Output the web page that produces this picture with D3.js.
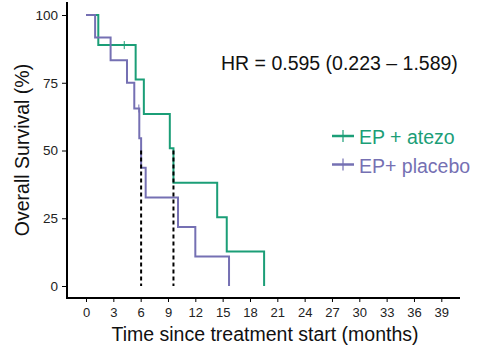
<!DOCTYPE html>
<html><head><meta charset="utf-8">
<script src="https://cdn.jsdelivr.net/npm/d3@7"></script>
<style>body{margin:0;background:#fff}svg{display:block}text{font-family:"Liberation Sans",Arial,sans-serif}</style>
</head><body><svg id="c" width="477" height="352"></svg>
<script>
const xTicks = [0,3,6,9,12,15,18,21,24,27,30,33,36,39];
const yTicks = [0,25,50,75,100];
const atezoTimes = [0,1.35,5.45,6.35,9.2,9.6,14.4,15.45,19.55];
const atezoSurv  = [100,88.9,76.2,63.5,50.8,38.1,25.4,12.7,0];
const atezoCensorTimes = [4.2];
const atezoCensorSurv = [88.9];
const placeboTimes = [0,1.0,2.7,4.5,5.3,5.85,6.05,6.55,10.1,12.0,15.7];
const placeboSurv  = [100,91.7,83.3,75,65.5,54.5,43.6,32.7,21.8,10.9,0];
const placeboCensorTimes = [5.8];
const placeboCensorSurv = [65.5];
const medianTimes = [6.05,9.6];
const seriesNames = ["EP + atezo","EP+ placebo"];
const colors = ["#1B9E77","#7570B3"];
const hrText = "HR = 0.595 (0.223 \u2013 1.589)";

const svg = d3.select("#c");
const x = d3.scaleLinear().domain([0,39]).range([86,441.3]);
const y = d3.scaleLinear().domain([0,100]).range([286,15]);

// axes lines
svg.append("line").attr("x1",67).attr("x2",67).attr("y1",2).attr("y2",299).attr("stroke","#000").attr("stroke-width",2);
svg.append("line").attr("x1",66).attr("x2",460).attr("y1",298).attr("y2",298).attr("stroke","#000").attr("stroke-width",2);

const yAxis = d3.axisLeft(y).tickValues(yTicks).tickSize(4).tickPadding(4);
const gy = svg.append("g").attr("transform","translate(66,0)").call(yAxis);
gy.select(".domain").remove();
gy.selectAll("text").attr("font-size",13.5).attr("fill","#222").style("font-family","Liberation Sans, Arial, sans-serif");
gy.selectAll("line").attr("stroke","#000");

const xAxis = d3.axisBottom(x).tickValues(xTicks).tickSize(4).tickPadding(6);
const gx = svg.append("g").attr("transform","translate(0,298)").call(xAxis);
gx.select(".domain").remove();
gx.selectAll("text").attr("font-size",13).attr("fill","#222").style("font-family","Liberation Sans, Arial, sans-serif");
gx.selectAll("line").attr("stroke","#000");

const line = d3.line().x(d=>x(d[0])).y(d=>y(d[1])).curve(d3.curveStepAfter);
const series = [
  {t:atezoTimes,s:atezoSurv,ct:atezoCensorTimes,cs:atezoCensorSurv},
  {t:placeboTimes,s:placeboSurv,ct:placeboCensorTimes,cs:placeboCensorSurv}
];
series.forEach((sr,i)=>{
  svg.append("path").datum(sr.t.map((t,j)=>[t,sr.s[j]]))
    .attr("d",line).attr("fill","none").attr("stroke",colors[i]).attr("stroke-width",2);
  sr.ct.forEach((t,j)=>{
    svg.append("line").attr("x1",x(t)).attr("x2",x(t)).attr("y1",y(sr.cs[j])-4).attr("y2",y(sr.cs[j])+4)
      .attr("stroke",colors[i]).attr("stroke-width",1);
  });
});

medianTimes.forEach(t=>{
  svg.append("line").attr("x1",x(t)).attr("x2",x(t)).attr("y1",y(50)).attr("y2",y(0))
    .attr("stroke","#000").attr("stroke-width",2).attr("stroke-dasharray","4,3");
});

svg.append("text").attr("x",221).attr("y",69.5).attr("font-size",19.5).attr("fill","#111").text(hrText);

seriesNames.forEach((n,i)=>{
  const yy = 136 + i*28.5;
  svg.append("line").attr("x1",332).attr("x2",354).attr("y1",yy).attr("y2",yy).attr("stroke",colors[i]).attr("stroke-width",2.5);
  svg.append("line").attr("x1",343).attr("x2",343).attr("y1",yy-6).attr("y2",yy+6).attr("stroke",colors[i]).attr("stroke-width",1.2);
  svg.append("text").attr("x",359).attr("y",yy+8.3).attr("font-size",19.5).attr("fill",colors[i]).text(n);
});

svg.append("text").attr("x",265).attr("y",341).attr("text-anchor","middle").attr("font-size",19.5).attr("fill","#111")
  .text("Time since treatment start (months)");
svg.append("text").attr("transform","translate(29,150) rotate(-90)").attr("text-anchor","middle").attr("font-size",19.5).attr("fill","#111")
  .text("Overall Survival (%)");
</script></body></html>
